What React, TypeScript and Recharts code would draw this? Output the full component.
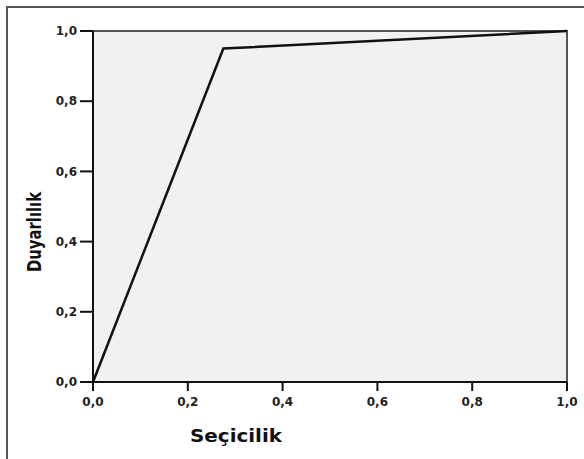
import React from "react";
import { LineChart, Line, XAxis, YAxis, ReferenceArea, Label } from "recharts";

const specificity = [0, 0.275, 1];
const sensitivity = [0, 0.95, 1];
const ticks = [0, 0.2, 0.4, 0.6, 0.8, 1];
const xTitle = "Seçicilik";
const yTitle = "Duyarlılık";

const data = specificity.map((x, i) => ({ x, y: sensitivity[i] }));
const fmt = (v: number) => v.toFixed(1).replace(".", ",");
const tickFont = { fontFamily: "DejaVu Sans, Verdana, sans-serif", fontWeight: 700, fontSize: 12, fill: "#222" };

export default function App() {
  return (
    <div style={{ position: "absolute", left: 0, top: 0, width: 584, height: 459, overflow: "hidden", background: "#fff" }}>
      <div style={{ position: "absolute", left: 6, top: 6, width: 700, height: 600, borderLeft: "2px solid #555", borderTop: "2px solid #555" }} />
      <LineChart width={584} height={459} data={data} margin={{ top: 31, right: 17, left: 33, bottom: 0 }} style={{ position: "absolute", left: 0, top: 0 }}>
        <ReferenceArea x1={0} x2={1} y1={0} y2={1} fill="#f1f1f1" fillOpacity={1} stroke="#555" strokeWidth={2} ifOverflow="visible" />
        <XAxis
          type="number"
          dataKey="x"
          domain={[0, 1]}
          ticks={ticks}
          tickFormatter={fmt}
          height={77}
          tickSize={9}
          tickMargin={6}
          tick={tickFont}
          axisLine={{ stroke: "#111", strokeWidth: 2 }}
          tickLine={{ stroke: "#111", strokeWidth: 2 }}
        >
          <Label
            content={(p: any) => {
              const vb = p.viewBox;
              return (
                <text x={vb.x + 143} y={vb.y + 60} textAnchor="middle" textLength={92} lengthAdjust="spacingAndGlyphs" style={{ fontFamily: "DejaVu Sans, Verdana, sans-serif", fontWeight: 700, fontSize: 17, fill: "#111" }}>
                  {xTitle}
                </text>
              );
            }}
          />
        </XAxis>
        <YAxis
          type="number"
          domain={[0, 1]}
          ticks={ticks}
          tickFormatter={fmt}
          width={60}
          tickSize={13}
          tickMargin={3}
          tick={tickFont}
          axisLine={{ stroke: "#111", strokeWidth: 2 }}
          tickLine={{ stroke: "#111", strokeWidth: 2 }}
        >
          <Label
            content={(p: any) => {
              const vb = p.viewBox;
              const cx = 41;
              const cy = vb.y + 201;
              return (
                <text x={cx} y={cy} textAnchor="middle" textLength={80} lengthAdjust="spacingAndGlyphs" transform={`rotate(-90 ${cx} ${cy})`} style={{ fontFamily: "DejaVu Sans, Arial, sans-serif", fontWeight: 700, fontSize: 19, fill: "#111" }}>
                  {yTitle}
                </text>
              );
            }}
          />
        </YAxis>
        <Line type="linear" dataKey="y" stroke="#111" strokeWidth={2.5} dot={false} isAnimationActive={false} />
      </LineChart>
    </div>
  );
}
